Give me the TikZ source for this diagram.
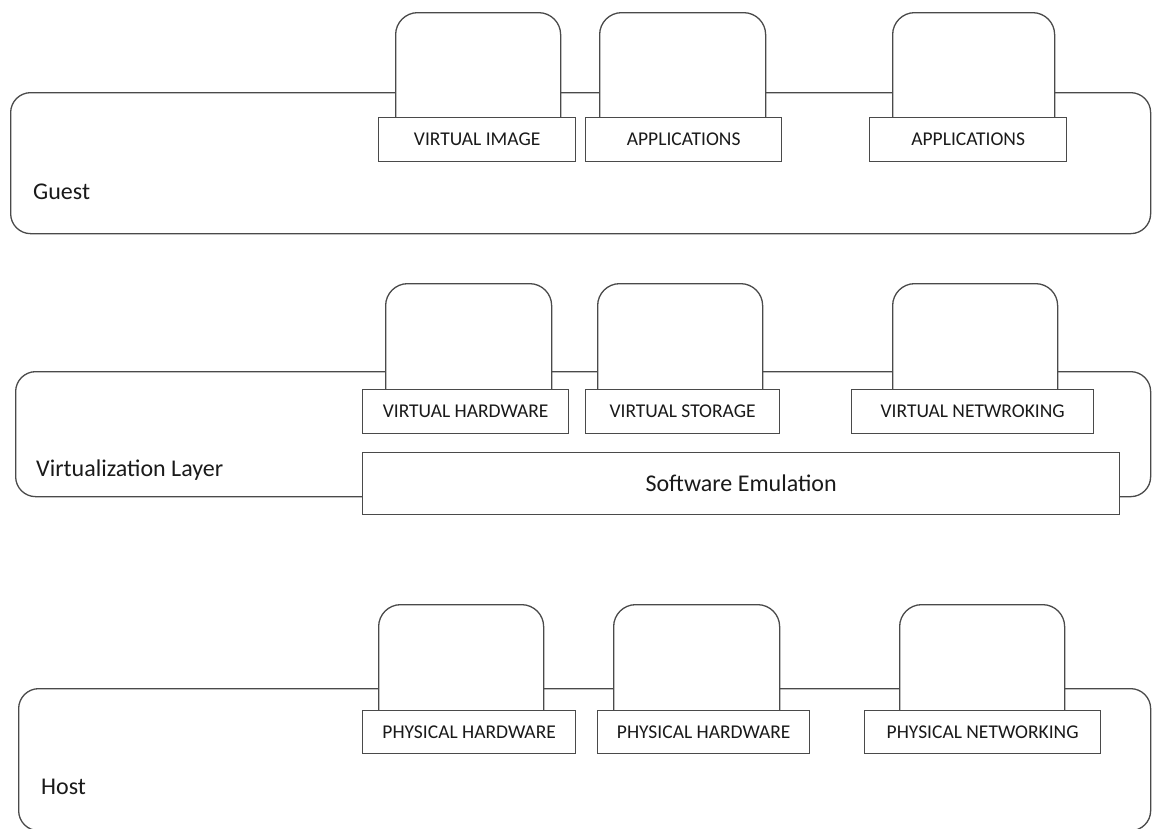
\documentclass[tikz,border=0pt]{standalone}
\usepackage{fontspec}
\setmainfont{Carlito}
\definecolor{linec}{HTML}{4A4A4A}
\definecolor{textc}{HTML}{1A1A1A}
\newcommand{\lblfont}{\fontsize{19.5}{22}\selectfont}
\newcommand{\layerfont}{\fontsize{24}{28}\selectfont}
\begin{document}
\begin{tikzpicture}[x=1pt,y=-1pt,
  outl/.style={draw=linec, fill=white, line width=1.3pt, inner sep=0pt, anchor=north west},
  bigbox/.style={outl, rounded corners=20pt},
  tabbox/.style={outl, rounded corners=22pt},
  lblbox/.style={outl, font=\lblfont, text=textc},
  layertext/.style={anchor=west, inner sep=0pt, font=\layerfont, text=textc}]
\useasboundingbox (0,0) rectangle (1152,828);
% ---------- Guest ----------
\node[bigbox, minimum width=1140pt, minimum height=141pt] (guest) at (10,92) {};
\node[tabbox, minimum width=165pt, minimum height=128pt] (gt1) at (395,12) {};
\node[tabbox, minimum width=166pt, minimum height=128pt] (gt2) at (599,12) {};
\node[tabbox, minimum width=162pt, minimum height=128pt] (gt3) at (892,12) {};
\node[lblbox, minimum width=197pt, minimum height=44pt] (gl1) at (378,117) {VIRTUAL IMAGE};
\node[lblbox, minimum width=196pt, minimum height=44pt] (gl2) at (585,117) {APPLICATIONS};
\node[lblbox, minimum width=197pt, minimum height=44pt] (gl3) at (869,117) {APPLICATIONS};
\node[layertext] (guesttxt) at (33,192) {Guest};
% ---------- Virtualization layer ----------
\node[bigbox, minimum width=1135pt, minimum height=125pt] (virt) at (15,371) {};
\node[tabbox, minimum width=166pt, minimum height=128pt] (vt1) at (385,283) {};
\node[tabbox, minimum width=165pt, minimum height=128pt] (vt2) at (597,283) {};
\node[tabbox, minimum width=165pt, minimum height=128pt] (vt3) at (892,283) {};
\node[lblbox, minimum width=206pt, minimum height=44pt] (vl1) at (362,389) {VIRTUAL HARDWARE};
\node[lblbox, minimum width=194pt, minimum height=44pt] (vl2) at (585,389) {VIRTUAL STORAGE};
\node[lblbox, minimum width=242pt, minimum height=44pt] (vl3) at (851,389) {VIRTUAL NETWROKING};
\node[outl, minimum width=757pt, minimum height=62pt, font=\layerfont, text=textc] (emu) at (362,452) {Software Emulation};
\node[layertext] (virttxt) at (36,470) {Virtualization Layer};
% ---------- Host ----------
\node[bigbox, minimum width=1132pt, minimum height=142pt] (host) at (18,688) {};
\node[tabbox, minimum width=165pt, minimum height=128pt] (ht1) at (378,604) {};
\node[tabbox, minimum width=166pt, minimum height=128pt] (ht2) at (613,604) {};
\node[tabbox, minimum width=165pt, minimum height=128pt] (ht3) at (899,604) {};
\node[lblbox, minimum width=213pt, minimum height=43pt] (hl1) at (362,710) {PHYSICAL HARDWARE};
\node[lblbox, minimum width=212pt, minimum height=43pt] (hl2) at (597,710) {PHYSICAL HARDWARE};
\node[lblbox, minimum width=236pt, minimum height=43pt] (hl3) at (864,710) {PHYSICAL NETWORKING};
\node[layertext] (hosttxt) at (41,787) {Host};
\end{tikzpicture}
\end{document}
